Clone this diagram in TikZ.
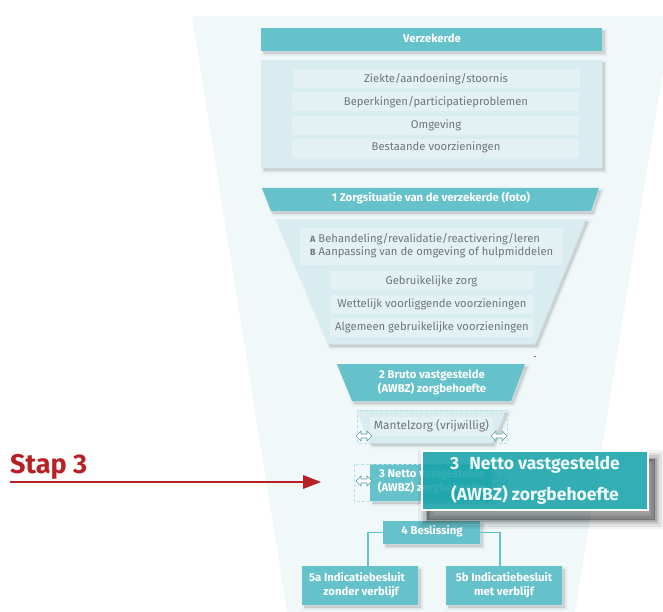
\documentclass[tikz,border=0pt]{standalone}
\usepackage{fontspec}
\setmainfont{Fira Sans}
\usetikzlibrary{calc}
\definecolor{funnel}{HTML}{F0F8FA}
\definecolor{teal1}{HTML}{66C2CA}
\definecolor{panel}{HTML}{D9ECEF}
\definecolor{rowc}{HTML}{E3F1F3}
\definecolor{greyt}{HTML}{6E7679}
\definecolor{over}{HTML}{17A3AA}
\definecolor{redc}{HTML}{B82025}
\definecolor{curs}{HTML}{5F9EA5}
\definecolor{dashc}{HTML}{B5DFE2}
\tikzset{
  softshadow/.style={
    preaction={draw=black,fill=black,line width=6pt,opacity=.012,transform canvas={shift={(2.5,3)}}},
    preaction={draw=black,fill=black,line width=4pt,opacity=.022,transform canvas={shift={(2.5,3)}}},
    preaction={draw=black,fill=black,line width=2pt,opacity=.035,transform canvas={shift={(2.5,3)}}},
    preaction={fill=black,opacity=.05,transform canvas={shift={(2,2.5)}}}},
  bigshadow/.style={
    preaction={draw=black,fill=black,line width=18pt,opacity=.05,transform canvas={shift={(6,9)}}},
    preaction={draw=black,fill=black,line width=13pt,opacity=.07,transform canvas={shift={(6,9)}}},
    preaction={draw=black,fill=black,line width=8pt,opacity=.1,transform canvas={shift={(6,9)}}},
    preaction={draw=black,fill=black,line width=3pt,opacity=.16,transform canvas={shift={(6,9)}}}},
  tealshape/.style={fill=teal1,softshadow},
  panelshape/.style={fill=panel,softshadow},
  whitetext/.style={text=white,font=\fontsize{11.3}{14}\selectfont\bfseries,align=center,inner sep=0pt},
  rowtext/.style={text=greyt,font=\fontsize{11.25}{14}\selectfont,align=center,inner sep=0pt},
  rect/.style={inner sep=0pt,outer sep=0pt},
  tealbox/.style={rect,tealshape},
  panelbox/.style={rect,panelshape},
  rowbox/.style={rect,fill=rowc},
  dashbox/.style={draw=dashc,densely dashed,line width=.5pt},
  conn/.style={draw=teal1,line width=1.3pt},
  cursorshape/.style={fill=white,draw=curs,line width=.6pt,line join=miter}
}
\newcommand{\boxat}[6]{\node[#6,minimum width={(#4-#2)*1pt},minimum height={(#5-#3)*1pt}] (#1) at ({(#2+#4)/2},{(#3+#5)/2}) {};}
\newcommand{\cursorat}[2]{\draw[cursorshape,shift={(#1,#2)}] (-8,0)--(-3,-5)--(-3,-2)--(3,-2)--(3,-5)--(8,0)--(3,5)--(3,2)--(-3,2)--(-3,5)--cycle;}
\begin{document}
\begin{tikzpicture}[x=1pt,y=-1pt]
\useasboundingbox (0,0) rectangle (663,612);
% funnel background
\fill[funnel] (192,16) -- (663,16) -- (663,72) -- (575,612) -- (287,612) -- cycle;

% Verzekerde
\boxat{verz}{261}{28}{602}{51}{tealbox}
\node[whitetext] (verzt) at (432,38) {Verzekerde};
\boxat{panelA}{261}{60}{602}{168}{panelbox}
\boxat{r1}{293}{69}{580}{88}{rowbox}
\boxat{r2}{292}{92}{579}{111}{rowbox}
\boxat{r3}{292}{116}{579}{135}{rowbox}
\boxat{r4}{292}{139}{579}{158}{rowbox}
\node[rowtext] (r1t) at (436,79) {Ziekte/aandoening/stoornis};
\node[rowtext] (r2t) at (436,102) {Beperkingen/participatieproblemen};
\node[rowtext] (r3t) at (436,125) {Omgeving};
\node[rowtext] (r4t) at (436,147) {Bestaande voorzieningen};

% 1 Zorgsituatie
\path[tealshape] (262,188) -- (599,188) -- (591,211) -- (271,211) -- cycle;
\node[whitetext] (z1) at (431,198) {1 Zorgsituatie van de verzekerde (foto)};
\path[panelshape] (276,219) -- (586,219) -- (535,344) -- (328,344) -- cycle;
\boxat{ab}{300}{228}{563}{265}{rowbox}
\node[rowtext,align=left,anchor=west] (abt) at (310,245.5) {{\fontsize{9}{14}\selectfont\bfseries A} Behandeling/revalidatie/reactivering/leren\\[-.6pt]{\fontsize{9}{14}\selectfont\bfseries B} Aanpassing van de omgeving of hulpmiddelen};
\boxat{s1}{330}{271}{534}{290}{rowbox}
\boxat{s2}{330}{295}{534}{314}{rowbox}
\boxat{s3}{330}{318}{534}{337}{rowbox}
\node[rowtext] (s1t) at (431.5,281) {Gebruikelijke zorg};
\node[rowtext] (s2t) at (432,304) {Wettelijk voorliggende voorzieningen};
\node[rowtext] (s3t) at (432,327) {Algemeen gebruikelijke voorzieningen};
\draw[greyt,line width=.6pt] (533.5,356) -- (536,356);

% 2 Bruto
\path[tealshape] (337,364) -- (525,364) -- (511,401) -- (352,401) -- cycle;
\node[whitetext] (bruto) at (432,382) {2 Bruto vastgestelde\\(AWBZ) zorgbehoefte};

% Mantelzorg
\path[panelshape] (357,410) -- (506,410) -- (492,443) -- (370,443) -- cycle;
\boxat{m}{370}{417}{493}{436}{rowbox}
\node[rowtext,font=\fontsize{11.8}{14}\selectfont] (mt) at (431.5,426) {Mantelzorg (vrijwillig)};
\draw[dashbox] (357,410) rectangle (507,443);
\cursorat{364}{436}
\cursorat{499}{436}

% 3 Netto (underlying)
\boxat{n}{370}{464}{492}{501}{tealbox}
\node[whitetext] (nt) at (432,481) {3 Netto vastgestelde\\(AWBZ) zorgbehoefte};
\draw[dashbox] (354,464) rectangle (507,501);
\cursorat{364}{481}
\cursorat{499}{481}

% 4 and 5
\boxat{d}{383}{521}{480}{544}{tealbox}
\node[whitetext] (dt) at (432,531) {4 Beslissing};
\boxat{a}{302}{566}{418}{605}{tealbox}
\boxat{b}{446}{566}{562}{605}{tealbox}
\node[whitetext] (at) at (361,585) {\hspace*{-8pt}5a Indicatiebesluit\\zonder verblijf};
\node[whitetext] (bt) at (504,585) {5b Indicatiebesluit\\met verblijf};
\draw[conn] (d.west) -| ([xshift=8pt]a.north);
\draw[conn] (d.east) -| ([xshift=-4pt]b.north);

% overlay callout: the shadow is clipped away under the translucent box
\begin{scope}
  \clip (0,0) -- (663,0) -- (663,612) -- (0,612) -- cycle
        (421,450) -- (421,511) -- (649,511) -- (649,450) -- cycle;
  \path[bigshadow] (421,450) rectangle (649,511);
\end{scope}
\node[rect,minimum width=226pt,minimum height=59pt,fill=over,fill opacity=.88,draw=white,draw opacity=1,line width=2pt] (ov) at (535,480.5) {};
\node[text=white,font=\fontsize{17.5}{31}\selectfont\bfseries,align=center,inner sep=0pt,opacity=.92] (ovt) at (535,480.5) {3\hspace{6pt} Netto vastgestelde\\(AWBZ) zorgbehoefte};

% Stap 3
\node[text=redc,font=\fontsize{27}{30}\selectfont\bfseries,anchor=base west,inner sep=0pt] (st) at (10,473) {Stap 3};
\coordinate (as) at (10,482);
\coordinate (ae) at (303,482);
\coordinate (at1) at (303,475);
\coordinate (at2) at (321,482);
\coordinate (at3) at (303,489);
\draw[redc,line width=2.4pt] (as) -- (ae);
\fill[redc] (at1) -- (at2) -- (at3) -- cycle;
\end{tikzpicture}
\end{document}
